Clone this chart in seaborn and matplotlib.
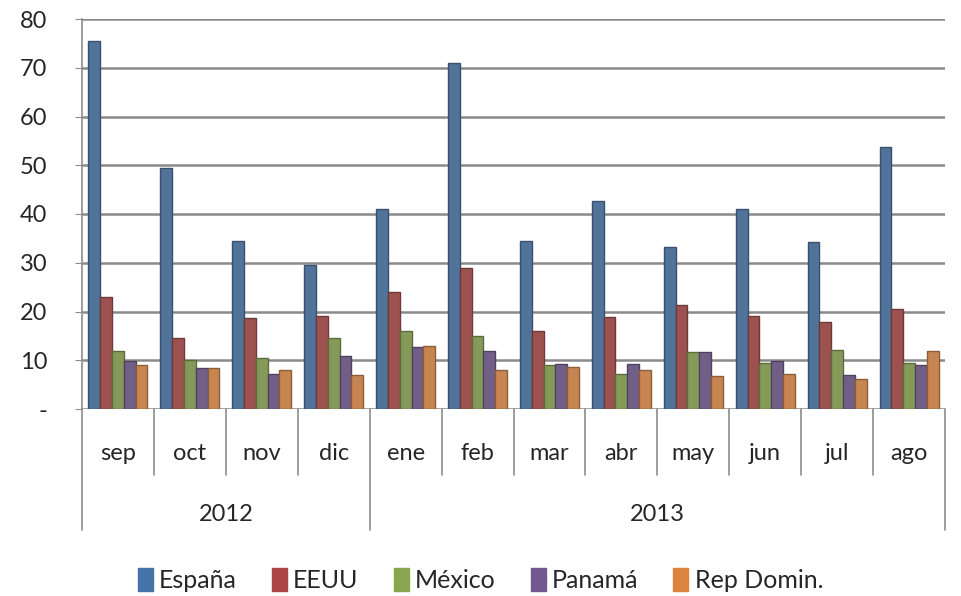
import numpy as np
import pandas as pd
import matplotlib
matplotlib.use("Agg")
import matplotlib.pyplot as plt
import seaborn as sns

# Data -------------------------------------------------------------------------
months = ["sep", "oct", "nov", "dic", "ene", "feb", "mar", "abr", "may", "jun", "jul", "ago"]
years = ["2012", "2013"]
months_per_year = [4, 8]
countries = ["España", "EEUU", "México", "Panamá", "Rep Domin."]

espana = [75.5, 49.5, 34.5, 29.5, 41.0, 71.0, 34.5, 42.7, 33.3, 41.0, 34.3, 53.7]
eeuu = [23.0, 14.6, 18.6, 19.0, 23.9, 28.9, 15.9, 18.8, 21.3, 19.0, 17.8, 20.6]
mexico = [11.8, 10.0, 10.5, 14.6, 16.0, 14.9, 9.1, 7.1, 11.6, 9.5, 12.2, 9.5]
panama = [9.9, 8.5, 7.1, 10.8, 12.7, 11.8, 9.3, 9.3, 11.6, 9.8, 7.0, 9.0]
repdom = [9.0, 8.5, 8.0, 7.0, 13.0, 8.1, 8.6, 8.1, 6.7, 7.1, 6.1, 11.8]

colors = ["#4572A7", "#AA4643", "#89A54E", "#71588F", "#DB843D"]

# long table for seaborn
df = pd.DataFrame({
    "mes": months * 5,
    "pais": [c for c in countries for _ in months],
    "valor": espana + eeuu + mexico + panama + repdom,
})

sns.set_style("white")
plt.rcParams["font.family"] = ["Lato", "DejaVu Sans"]
fs = 17

fig = plt.figure(figsize=(9.61, 5.96), dpi=100)
ax = fig.add_axes([82 / 961, (596 - 409) / 596, (945 - 82) / 961, 390 / 596])

sns.barplot(data=df, x="mes", y="valor", hue="pais", order=months, hue_order=countries,
            palette=colors, width=0.82, ax=ax, legend=False, zorder=3)

# darker outline gives a bit of the old 3D look
for patch in ax.patches:
    fc = np.array(patch.get_facecolor()[:3])
    patch.set_edgecolor(tuple(fc * 0.7))
    patch.set_linewidth(1.0)

ax.set_ylim(0, 80)
ax.set_xlim(-0.5, len(months) - 0.5)
ax.set_yticks(range(0, 81, 10))
ax.set_yticklabels(["-"] + [str(v) for v in range(10, 81, 10)], fontsize=fs)
ax.yaxis.grid(True, color="#8a8a8a", linewidth=1.8, zorder=0)
ax.xaxis.grid(False)
ax.set_xlabel("")
ax.set_ylabel("")

for side in ["top", "right", "bottom"]:
    ax.spines[side].set_visible(False)
ax.spines["left"].set_color("#8c8c8c")
ax.spines["left"].set_linewidth(1.2)
ax.tick_params(axis="y", left=True, length=5, color="#8c8c8c", pad=20)
ax.tick_params(axis="x", bottom=False, labelbottom=False)

# two-level category axis ----------------------------------------------------
trans = ax.get_xaxis_transform()
for i, m in enumerate(months):
    ax.text(i, -0.115, m, transform=trans, ha="center", va="center", fontsize=fs)

bounds = np.arange(len(months) + 1) - 0.5
year_edges = np.concatenate([[0], np.cumsum(months_per_year)]) - 0.5
for b in bounds:
    bottom = -0.31 if b in year_edges else -0.169
    ax.plot([b, b], [0, bottom], transform=trans, color="#8c8c8c", lw=1.2, clip_on=False)

start = 0
for y, n in zip(years, months_per_year):
    ax.text(start + n / 2 - 0.5, -0.27, y, transform=trans, ha="center", va="center", fontsize=fs)
    start += n

# legend -----------------------------------------------------------------------
handles = [plt.Rectangle((0, 0), 1, 1, color=c) for c in colors]
fig.legend(handles, countries, loc="center", bbox_to_anchor=(0.5, 16 / 596), ncol=5,
           frameon=False, fontsize=fs + 1, handlelength=0.6, handleheight=1.0,
           handletextpad=0.25, columnspacing=1.4)

fig.savefig("out.png", dpi=100)
